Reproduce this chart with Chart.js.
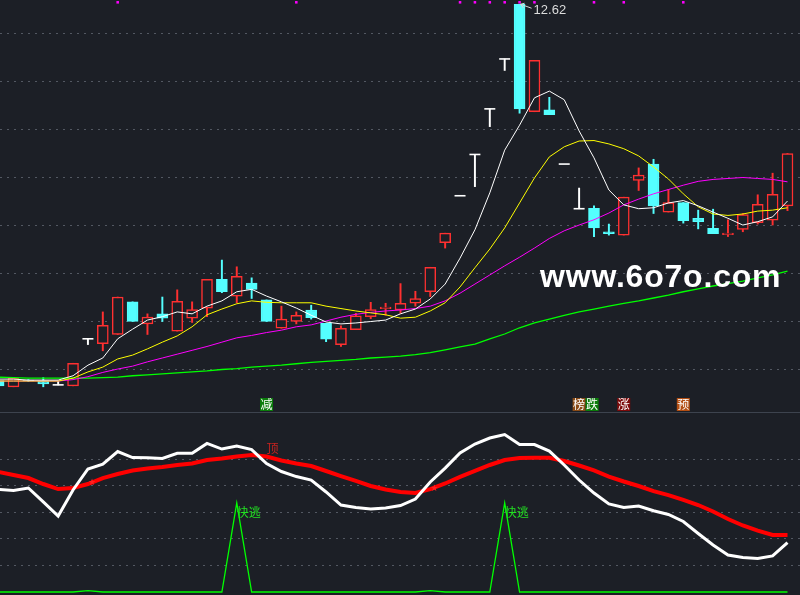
<!DOCTYPE html>
<html><head><meta charset="utf-8">
<script src="https://cdn.jsdelivr.net/npm/chart.js@4.4.1/dist/chart.umd.min.js"></script>
<style>
html,body{margin:0;padding:0;background:#1c1f26;width:800px;height:595px;overflow:hidden;}
#top{position:absolute;left:0;top:0;width:800px;height:412px;}
#sep{position:absolute;left:0;top:412px;width:800px;height:1px;background:#3d434e;}
#bot{position:absolute;left:0;top:413px;width:800px;height:182px;}
#wm{position:absolute;left:540px;top:260px;font:bold 32px "Liberation Sans",Arial,sans-serif;line-height:32px;color:#ffffff;letter-spacing:0.8px;white-space:nowrap;}
</style></head><body>
<div id="top"><canvas id="c1"></canvas></div>
<div id="sep"></div>
<div id="bot"><canvas id="c2"></canvas></div>
<div id="wm">www.6o7o.com</div>
<script>
// ---------- data (bars from index -1 to 52) ----------
const firstIndex = -1;
const open  = [4.78,4.65,4.79,4.77,4.69,4.67,5.65,5.55,5.74,6.42,5.96,6.17,5.81,6.08,6.29,6.89,6.54,6.81,6.46,5.87,6.01,6.25,5.97,5.53,5.84,6.11,6.28,6.25,6.39,6.63,7.65,8.63,9.49,10.44,11.48,12.62,10.38,10.42,9.29,8.36,8.37,7.88,7.81,8.95,9.29,8.29,8.49,8.16,7.95,7.82,7.93,8.07,8.12,8.42];
const high  = [4.79,4.83,4.80,4.84,4.76,5.14,5.65,6.21,6.52,6.42,6.17,6.52,6.67,6.42,6.89,7.29,7.15,6.92,6.46,6.33,6.21,6.35,5.97,5.92,6.18,6.41,6.39,6.80,6.64,7.14,7.85,8.63,9.49,10.44,11.48,12.62,11.45,10.68,9.29,8.79,8.42,8.04,8.60,9.21,9.39,8.76,8.49,8.33,8.35,8.13,8.26,8.65,9.10,9.51];
const low   = [4.66,4.65,4.76,4.65,4.69,4.67,5.53,5.40,5.74,6.01,5.74,6.01,5.81,5.99,6.11,6.61,6.40,6.49,6.01,5.87,5.96,6.06,5.59,5.49,5.84,6.07,6.14,6.18,6.33,6.53,7.54,8.63,8.82,10.07,11.24,10.35,10.38,10.32,9.29,8.36,7.78,7.81,7.81,8.74,8.26,8.29,8.06,7.94,7.84,7.78,7.88,8.04,8.02,8.32];
const close = [4.67,4.83,4.77,4.71,4.69,5.14,5.65,5.93,6.52,6.01,6.10,6.08,6.43,6.26,6.89,6.63,6.95,6.68,6.01,6.06,6.14,6.09,5.64,5.87,6.13,6.26,6.31,6.39,6.49,7.14,7.85,8.63,9.49,10.44,11.48,10.44,11.45,10.32,9.29,8.36,7.96,7.84,8.60,9.06,8.42,8.49,8.11,8.09,7.84,7.85,8.24,8.45,8.66,9.51];

const ma5  = [4.81,4.81,4.79,4.79,4.79,4.88,5.10,5.25,5.65,5.85,6.04,6.11,6.21,6.17,6.33,6.44,6.63,6.68,6.54,6.42,6.29,6.14,6.00,5.96,5.98,6.01,6.04,6.17,6.27,6.48,6.79,7.33,7.92,8.69,9.58,10.10,10.67,10.81,10.63,9.98,9.42,8.75,8.44,8.36,8.38,8.48,8.53,8.42,8.29,8.16,8.02,8.09,8.19,8.52];
const ma10 = [4.77,4.77,4.77,4.77,4.77,4.83,4.96,5.06,5.23,5.31,5.44,5.58,5.71,5.90,6.15,6.27,6.38,6.44,6.41,6.40,6.40,6.40,6.33,6.28,6.23,6.19,6.15,6.08,6.10,6.23,6.40,6.73,7.13,7.52,7.96,8.48,9.00,9.44,9.65,9.77,9.78,9.71,9.61,9.46,9.23,8.98,8.67,8.40,8.25,8.22,8.25,8.31,8.33,8.38];
const ma20 = [4.77,4.77,4.77,4.77,4.77,4.80,4.86,4.95,5.02,5.08,5.17,5.25,5.33,5.41,5.49,5.58,5.67,5.72,5.78,5.83,5.90,5.94,6.02,6.10,6.16,6.20,6.23,6.25,6.28,6.33,6.44,6.60,6.79,6.98,7.17,7.35,7.54,7.74,7.90,8.02,8.13,8.27,8.44,8.56,8.67,8.76,8.85,8.93,8.97,8.99,9.01,8.99,8.97,8.92];
const ma60 = [4.85,4.84,4.83,4.83,4.83,4.83,4.83,4.84,4.85,4.88,4.90,4.92,4.94,4.96,4.98,5.01,5.03,5.06,5.08,5.10,5.13,5.16,5.18,5.20,5.22,5.25,5.27,5.29,5.32,5.36,5.42,5.48,5.54,5.65,5.75,5.88,5.98,6.06,6.14,6.21,6.27,6.33,6.39,6.44,6.50,6.56,6.63,6.69,6.75,6.80,6.85,6.92,6.98,7.06];

const oscFast = [77.1,76.3,78.2,67.7,57.1,76.7,92.5,96.2,105.6,101.1,101.0,100.4,104.3,104.3,111.7,107.5,109.8,107.1,96.6,90.6,86.8,84.2,75.2,65.4,63.5,62.4,63.2,65.0,69.9,82.7,93.2,104.5,111.3,115.8,118.4,110.9,110.9,106.0,95.5,84.2,74.4,66.2,63.5,64.7,61.1,58.3,53.0,44.0,35.3,27.8,25.9,25.2,27.1,37.2];
const oscSlow = [90.2,88.0,85.7,81.2,77.4,78.2,81.2,85.7,88.7,91.4,92.9,94.0,95.5,96.6,99.2,100.4,101.9,103.0,101.9,98.9,96.6,94.7,91.0,87.2,83.5,79.7,77.1,75.2,74.4,77.4,81.6,86.5,91.0,95.5,99.2,100.8,101.0,101.0,98.5,95.1,91.4,86.8,83.1,79.7,75.9,72.9,69.2,65.4,60.5,54.9,50.0,46.2,42.9,42.9];
const escapeLine = [0,0,0,0,0,0,1,0,0,0,0,0,0,0,0,0,67,0,0,0,0,0,0,0,0,0,0,0,0,1,0,0,0,0,67,0,0,0,0,0,0,0,0,0,0,0,0,0,0,0,0,0,0,0];

const priceTicks = [5,6,7,8,9,10,11,12];
const oscTicks = [20,40,60,80,100];
const markerIdx = [7,19,30,31,32,33,34,35,39,41,45];
const markerLevel = 12.66;
const signalIdx = [17,38,41,45];
const signalText = ['减','榜跌','涨','预'];
const escapeIdx = [15,33];
const escapeText = '快逃';
const escapeLabelVal = 60;
const topIdx = [17];
const topText = '顶';
const topLabelVal = 108.3;
const crossIdx = [5,28];
const crossVal = [82.3,77.4];

// ---------- styles ----------
const C = {bg:'#1c1f26', up:'#ff3030', down:'#54ffff', flat:'#ffffff', ma5:'#ffffff', ma10:'#ffff00', ma20:'#ff00ff', ma60:'#00ff00', grid:'rgba(120,126,138,0.6)'};
const sigColor = {'减':'#0b7d0b','榜':'#8a4b16','跌':'#0b7d0b','涨':'#7d0a0a','预':'#b34e12'};
const CJK = '"Noto Sans CJK SC","Noto Sans",sans-serif';

const idx = open.map((_, k) => k + firstIndex);
const xRange = {min: -0.907, max: 52.84};
const kind = k => close[k] > open[k] ? 'up' : (close[k] < open[k] ? 'down' : 'flat');

const bodyData = idx.map((x, k) => ({x, y: [open[k], close[k]], k})).filter(d => kind(d.k) !== 'flat');
const wickData = idx.map((x, k) => ({x, y: [low[k], high[k]], k})).filter(d => high[d.k] > low[d.k]);
const flatData = idx.map((x, k) => ({x, y: open[k], k})).filter(d => kind(d.k) === 'flat');
const line = arr => idx.map((x, k) => ({x, y: arr[k]}));

const commonX = {type:'linear', min:xRange.min, max:xRange.max, display:false, offset:false, grid:{display:false}};
const baseOpts = {
  responsive:true, maintainAspectRatio:false, animation:false, events:[],
  layout:{padding:0, autoPadding:false},
  plugins:{legend:{display:false}, tooltip:{enabled:false}}
};
function yAxis(min, max, ticks) {
  return {type:'linear', min, max, bounds:'data', beginAtZero:false,
    ticks:{display:false}, grid:{color:C.grid, lineWidth:1, drawTicks:false},
    border:{display:false, dash:[2,5]},
    afterBuildTicks: s => { s.ticks = ticks.map(v => ({value:v})); }};
}

const upperLabels = {
  id:'upperLabels',
  afterDatasetsDraw(chart) {
    const {ctx, scales:{x, y}, chartArea} = chart;
    ctx.save();
    ctx.font = '12px ' + CJK;
    ctx.textAlign = 'center'; ctx.textBaseline = 'middle';
    const boxTop = chartArea.bottom - 14;
    signalIdx.forEach((i, n) => {
      let left = x.getPixelForValue(i) - 6.5;
      [...signalText[n]].forEach(ch => {
        ctx.fillStyle = sigColor[ch];
        ctx.fillRect(left, boxTop, 13, 13);
        ctx.fillStyle = '#ffffff';
        ctx.fillText(ch, left + 6.5, boxTop + 6.5);
        left += 13;
      });
    });
    // highest price label
    let km = 0;
    high.forEach((v, k) => { if (v > high[km]) km = k; });
    const px = x.getPixelForValue(idx[km]) + 1, py = y.getPixelForValue(high[km]);
    ctx.strokeStyle = '#d8d8d8'; ctx.lineWidth = 1;
    ctx.beginPath();
    ctx.moveTo(px, py); ctx.lineTo(px + 11, py + 4);
    ctx.moveTo(px, py); ctx.lineTo(px + 3, py + 4);
    ctx.moveTo(px, py); ctx.lineTo(px + 4, py - 1);
    ctx.stroke();
    ctx.fillStyle = '#dcdcdc';
    ctx.font = '13px "Liberation Sans",Arial,sans-serif';
    ctx.textAlign = 'left';
    ctx.fillText(high[km].toFixed(2), px + 13, py + 6);
    ctx.restore();
  }
};

new Chart(document.getElementById('c1'), {
  type:'bar',
  data:{datasets:[
    {type:'line', data:markerIdx.map(i => ({x:i, y:markerLevel})), showLine:false, pointStyle:'rect', pointRadius:1.8, pointBackgroundColor:C.ma20, pointBorderWidth:0},
    {type:'line', data:line(ma5), borderColor:C.ma5, borderWidth:1, pointRadius:0, tension:0, fill:false},
    {type:'line', data:line(ma10), borderColor:C.ma10, borderWidth:1, pointRadius:0, tension:0, fill:false},
    {type:'line', data:line(ma20), borderColor:C.ma20, borderWidth:1, pointRadius:0, tension:0, fill:false},
    {type:'line', data:line(ma60), borderColor:C.ma60, borderWidth:1.3, pointRadius:0, tension:0, fill:false},
    {type:'line', data:flatData, showLine:false, pointStyle:'line', pointRadius:5.5, pointBorderColor:C.flat, pointBorderWidth:1.6},
    {type:'bar', data:bodyData, grouped:false, barThickness:11, maxBarThickness:11, borderSkipped:false, borderWidth:1.5,
      backgroundColor: c => (c.raw && kind(c.raw.k) === 'down') ? C.down : C.bg,
      borderColor: c => (c.raw && kind(c.raw.k) === 'down') ? C.down : C.up},
    {type:'bar', data:wickData, grouped:false, barThickness:1.3, maxBarThickness:1.3, borderWidth:0,
      backgroundColor: c => { if (!c.raw) return C.up; const t = kind(c.raw.k); return t === 'up' ? C.up : (t === 'down' ? C.down : C.flat); }}
  ]},
  options:Object.assign({}, baseOpts, {scales:{x:commonX, y:yAxis(4.125, 12.708, priceTicks)}}),
  plugins:[upperLabels]
});

const lowerLabels = {
  id:'lowerLabels',
  afterDatasetsDraw(chart) {
    const {ctx, scales:{x, y}} = chart;
    ctx.save();
    ctx.textAlign = 'left'; ctx.textBaseline = 'middle';
    ctx.font = '12px ' + CJK;
    ctx.fillStyle = '#22e022';
    escapeIdx.forEach(i => ctx.fillText(escapeText, x.getPixelForValue(i), y.getPixelForValue(escapeLabelVal)));
    ctx.fillStyle = '#c8221f';
    topIdx.forEach(i => ctx.fillText(topText, x.getPixelForValue(i), y.getPixelForValue(topLabelVal)));
    ctx.font = '9px "DejaVu Sans",sans-serif';
    ctx.fillStyle = '#ff2020';
    crossIdx.forEach((i, n) => ctx.fillText('★', x.getPixelForValue(i), y.getPixelForValue(crossVal[n])));
    ctx.restore();
  }
};

new Chart(document.getElementById('c2'), {
  type:'line',
  data:{datasets:[
    {data:line(oscFast), borderColor:'#ffffff', borderWidth:3, pointRadius:0, tension:0, fill:false},
    {data:line(oscSlow), borderColor:'#ff0000', borderWidth:4, pointRadius:0, tension:0, fill:false},
    {data:line(escapeLine), borderColor:'#00ff00', borderWidth:1.3, pointRadius:0, tension:0, fill:false}
  ]},
  options:Object.assign({}, baseOpts, {scales:{x:commonX, y:yAxis(-2.26, 134.6, oscTicks)}}),
  plugins:[lowerLabels]
});
</script>
</body></html>
